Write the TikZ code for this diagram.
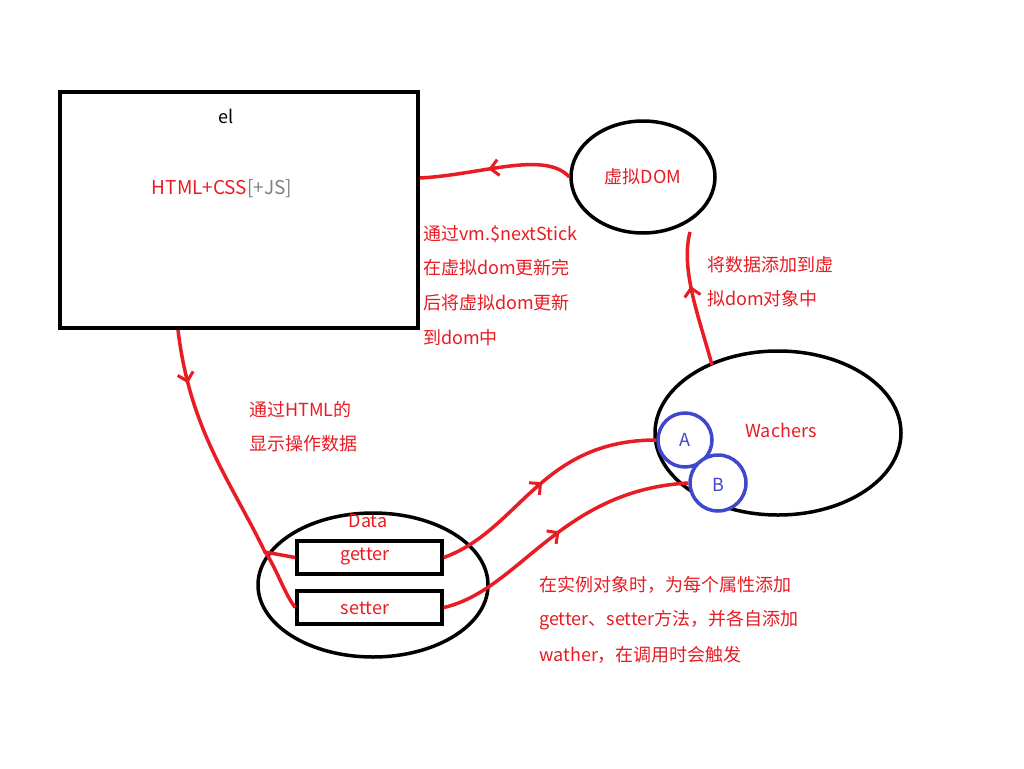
\documentclass[tikz,border=0pt]{standalone}
\usepackage{fontspec}
\setmainfont{Noto Sans CJK SC}
\usetikzlibrary{decorations.markings,arrows.meta,shapes.geometric}
\definecolor{rd}{RGB}{232,28,36}
\definecolor{bl}{RGB}{63,72,204}
\tikzset{
 box/.style={draw=black,line width=4pt},
 ell/.style={draw=black,line width=3.5pt},
 circ/.style={draw=bl,line width=3.5pt},
 rtext/.style={text=rd,font=\fontsize{18}{18}\selectfont,anchor=west,inner sep=1pt},
 conn/.style={draw=rd,line width=3.5pt},
 midarrow/.style={postaction={decorate},decoration={markings,mark=at position #1 with {\arrow{Straight Barb[length=8pt,width=16pt,line width=3pt]}}}}
}
\begin{document}
\begin{tikzpicture}[x=1pt,y=-1pt]
\useasboundingbox (0,0) rectangle (1024,768);
\fill[white] (0,0) rectangle (1024,768);
\draw[box] (60,92) rectangle (418,328);
\node (el) at (226,116) {\fontsize{18}{18}\selectfont el};
\node (html) at (222,189) {\fontsize{19}{19}\selectfont\textcolor{rd}{HTML+CSS}\textcolor{gray}{[+JS]}};
\node[ell,ellipse,minimum width=144pt,minimum height=112pt] (dom) at (643,177) {};
\node[rtext,anchor=center] at (643,177) {虚拟DOM};
\node[ell,ellipse,minimum width=246pt,minimum height=164pt] (wa) at (778,433) {};
\node[rtext,anchor=center] at (781,430) {Wachers};
\node[circ,circle,minimum size=54pt] (A) at (685,440) {};
\node[circ,circle,minimum size=56pt,fill=white] (B) at (718,483) {};
\node[text=bl,font=\fontsize{18}{18}\selectfont] at (685,440) {A};
\node[text=bl,font=\fontsize{18}{18}\selectfont] at (718,485) {B};
\node[ell,ellipse,minimum width=230pt,minimum height=144pt] (data) at (373,585) {};
\node[rtext,anchor=center] at (368,521) {Data};
\node[draw,line width=3.5pt,minimum width=145pt,minimum height=33pt] (get) at (369.5,557.5) {};
\node[rtext,anchor=center] at (365,556) {getter};
\node[draw,line width=3.5pt,minimum width=145pt,minimum height=33pt] (set) at (369.5,607.5) {};
\node[rtext,anchor=center] at (365,608) {setter};
\coordinate (elR) at (420,178);
\coordinate (elB) at (178,330);
\coordinate (br) at (265,552);
\coordinate (wt) at (712,365);
\coordinate (db) at (690,232);
\draw[conn,midarrow=0.55] (dom.west) .. controls (545,150) and (480,175) .. (elR);
\draw[conn,midarrow=0.6] (wt) .. controls (700,320) and (680,270) .. (db);
\draw[conn,midarrow=0.2] (elB) .. controls (190,430) and (230,480) .. (br) -- (get.west);
\draw[conn] (br) .. controls (275,565) and (285,595) .. (set.west);
\draw[conn,midarrow=0.5] (get.east) .. controls (520,530) and (540,440) .. (A.west);
\draw[conn,midarrow=0.5] (set.east) .. controls (520,590) and (560,490) .. (B.west);
\node[rtext] at (422,234) {通过vm.\$nextStick};
\node[rtext] at (422,268) {在虚拟dom更新完};
\node[rtext] at (422,303) {后将虚拟dom更新};
\node[rtext] at (422,338) {到dom中};
\node[rtext] at (706,265) {将数据添加到虚};
\node[rtext] at (706,299) {拟dom对象中};
\node[rtext] at (248,410) {通过HTML的};
\node[rtext] at (248,444) {显示操作数据};
\node[rtext] at (538,585) {在实例对象时，为每个属性添加};
\node[rtext] at (538,620) {getter、setter方法，并各自添加};
\node[rtext] at (538,655) {wather，在调用时会触发};
\end{tikzpicture}
\end{document}
